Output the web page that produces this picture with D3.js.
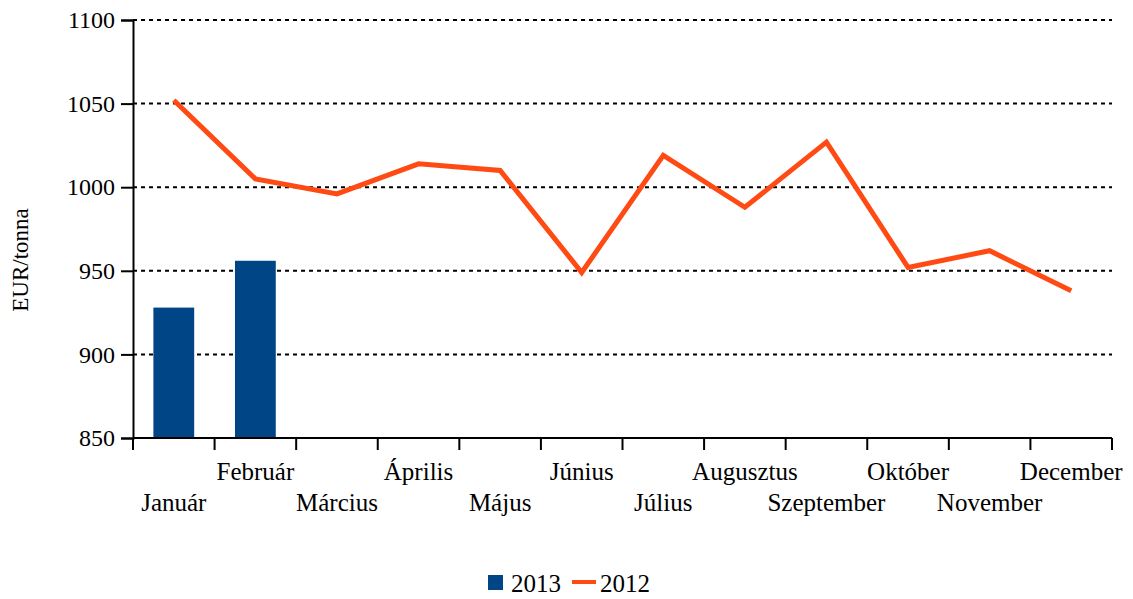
<!DOCTYPE html>
<html>
<head>
<meta charset="utf-8">
<script src="https://cdn.jsdelivr.net/npm/d3@7"></script>
<style>
  body { margin: 0; background: #fff; }
  text { font-family: "Liberation Serif", "Times New Roman", serif; fill: #000; }
</style>
</head>
<body>
<div id="chart"></div>
<script>
var months = ["Január", "Február", "Március", "Április", "Május", "Június",
    "Július", "Augusztus", "Szeptember", "Október", "November", "December"]
var values2013 = [928, 956]
var values2012 = [1052, 1005, 996, 1014, 1010, 949, 1019, 988, 1027, 952, 962, 938]
var yTicks = [850, 900, 950, 1000, 1050, 1100]

var width = 1133, height = 599
var mLeft = 133, mRight = 1112, mTop = 20, mBottom = 438

var svg = d3.select("#chart")
    .append("svg")
    .attr("width", width)
    .attr("height", height)
    .style("font-family", "'Liberation Serif', serif")

var x = d3.scaleBand()
    .domain(months)
    .range([mLeft, mRight])

var y = d3.scaleLinear()
    .domain([850, 1100])
    .range([mBottom, mTop])

// gridlines
svg.selectAll(".grid")
    .data(yTicks.slice(1))
    .enter()
    .append("line")
    .attr("x1", mLeft)
    .attr("x2", mRight)
    .attr("y1", d => y(d))
    .attr("y2", d => y(d))
    .attr("stroke", "#000")
    .attr("stroke-width", 2)
    .attr("stroke-dasharray", "4,4")

// bars 2013
svg.selectAll(".bar")
    .data(values2013)
    .enter()
    .append("rect")
    .attr("x", (d, i) => x(months[i]) + x.bandwidth() / 4)
    .attr("width", x.bandwidth() / 2)
    .attr("y", d => y(d))
    .attr("height", d => y(850) - y(d))
    .attr("fill", "#004586")

// y axis
var yAxis = svg.append("g")
    .attr("transform", "translate(" + mLeft + ",0)")
    .call(d3.axisLeft(y).tickValues(yTicks).tickSize(12).tickPadding(6).tickFormat(d3.format("d")))
yAxis.attr("font-family", null).attr("font-size", null)
yAxis.select(".domain").attr("stroke", "#000").attr("stroke-width", 2)
yAxis.selectAll(".tick line").attr("stroke", "#000").attr("stroke-width", 2)
yAxis.selectAll(".tick text")
    .style("font-family", "'Liberation Serif', serif")
    .style("font-size", "24px")
    .attr("fill", "#000")

// x axis
var xAxis = svg.append("g")
    .attr("transform", "translate(0," + mBottom + ")")
var xLine = d3.scaleLinear().domain([0, months.length]).range([mLeft, mRight])
xAxis.append("line")
    .attr("x1", mLeft).attr("x2", mRight)
    .attr("stroke", "#000").attr("stroke-width", 2)
xAxis.selectAll(".xt")
    .data(d3.range(months.length + 1))
    .enter()
    .append("line")
    .attr("x1", d => xLine(d))
    .attr("x2", d => xLine(d))
    .attr("y1", 0)
    .attr("y2", 12)
    .attr("stroke", "#000")
    .attr("stroke-width", 2)
xAxis.selectAll(".xl")
    .data(months)
    .enter()
    .append("text")
    .attr("x", d => x(d) + x.bandwidth() / 2)
    .attr("y", (d, i) => i % 2 == 0 ? 73 : 42)
    .attr("text-anchor", "middle")
    .style("font-size", "25px")
    .text(d => d)

// line 2012
var line = d3.line()
    .x((d, i) => x(months[i]) + x.bandwidth() / 2)
    .y(d => y(d))
svg.append("path")
    .datum(values2012)
    .attr("d", line)
    .attr("fill", "none")
    .attr("stroke", "#ff4a14")
    .attr("stroke-width", 5)

// y label
svg.append("text")
    .attr("transform", "translate(28,260) rotate(-90)")
    .attr("text-anchor", "middle")
    .style("font-size", "23px")
    .text("EUR/tonna")

// legend
var legend = svg.append("g")
legend.append("rect")
    .attr("x", 488).attr("y", 575)
    .attr("width", 15).attr("height", 15)
    .attr("fill", "#004586")
legend.append("text")
    .attr("x", 511).attr("y", 592)
    .style("font-size", "25px")
    .text("2013")
legend.append("line")
    .attr("x1", 572).attr("x2", 596)
    .attr("y1", 582).attr("y2", 582)
    .attr("stroke", "#ff4a14").attr("stroke-width", 4)
legend.append("text")
    .attr("x", 600).attr("y", 592)
    .style("font-size", "25px")
    .text("2012")
</script>
</body>
</html>
